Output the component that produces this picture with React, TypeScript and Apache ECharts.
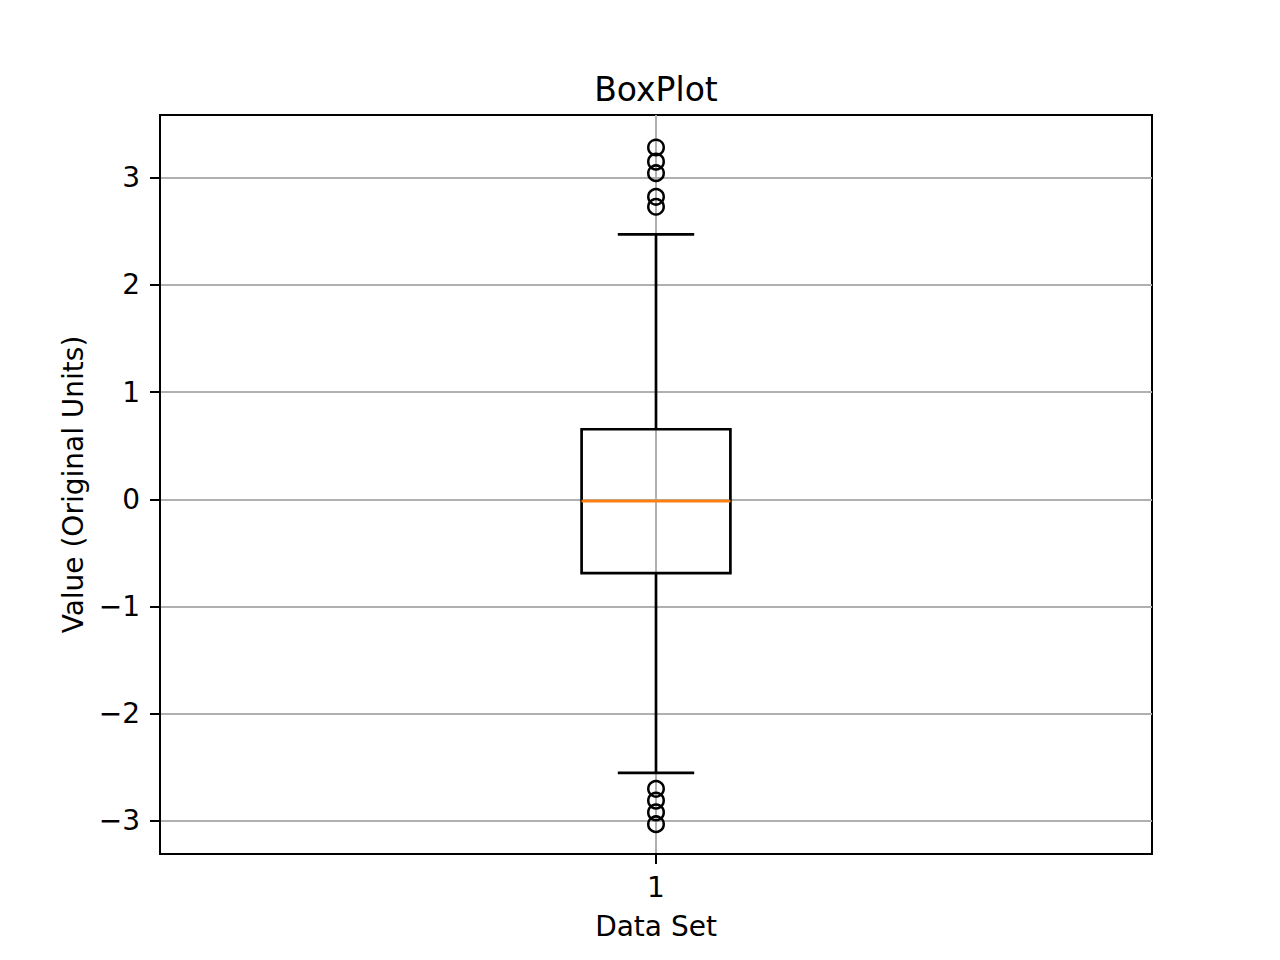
import React, { useEffect, useRef } from "react";
import * as echarts from "echarts";

// Five-number summary
const categories = [1];
const whiskerLow = [-2.552];
const q1 = [-0.688];
const median = [-0.016];
const q3 = [0.654];
const whiskerHigh = [2.471];
const outliers = [3.282, 3.15, 3.042, 2.822, 2.729, -2.70, -2.81, -2.92, -3.03];
const yTicks = [-3, -2, -1, 0, 1, 2, 3];
const xTicks = [1];

const FONT = "DejaVu Sans";

export default function App() {
  const ref = useRef<HTMLDivElement>(null);
  useEffect(() => {
    if (!ref.current) return;
    const chart = echarts.init(ref.current, null, { renderer: "svg" });
    const boxData = categories.map((c, i) => [c, whiskerLow[i], q1[i], median[i], q3[i], whiskerHigh[i]]);
    const outlierData = outliers.map((v) => [categories[0], v]);
    const lineStyle = { stroke: "#000", lineWidth: 2.7 };
    chart.setOption({
      animation: false,
      backgroundColor: "#fff",
      title: {
        text: "BoxPlot",
        left: 651,
        textAlign: "center",
        top: 68,
        textStyle: { fontFamily: FONT, fontSize: 33, fontWeight: "normal", color: "#000" },
      },
      grid: {
        left: 160,
        top: 115,
        width: 992,
        height: 739,
        show: true,
        borderColor: "#000",
        borderWidth: 2,
        backgroundColor: "transparent",
      },
      xAxis: {
        type: "value",
        min: 0.5,
        max: 1.5,
        name: "Data Set",
        nameLocation: "middle",
        nameGap: 58,
        nameTextStyle: { fontFamily: FONT, fontSize: 28, color: "#000" },
        axisLine: { show: true, onZero: false, lineStyle: { color: "#000", width: 2 } },
        axisTick: { show: true, length: 10, lineStyle: { color: "#000", width: 2 }, customValues: xTicks },
        axisLabel: { fontFamily: FONT, fontSize: 28, color: "#000", margin: 19, customValues: xTicks },
        splitLine: { show: true, lineStyle: { color: "#b0b0b0", width: 2 } },
      },
      yAxis: {
        type: "value",
        min: -3.308,
        max: 3.585,
        name: "Value (Original Units)",
        nameLocation: "middle",
        nameGap: 71,
        nameTextStyle: { fontFamily: FONT, fontSize: 28, color: "#000" },
        axisLine: { show: true, onZero: false, lineStyle: { color: "#000", width: 2 } },
        axisTick: { show: true, length: 10, lineStyle: { color: "#000", width: 2 }, customValues: yTicks },
        axisLabel: {
          fontFamily: FONT,
          fontSize: 28,
          color: "#000",
          margin: 20,
          customValues: yTicks,
          formatter: (v: number) => (v < 0 ? "\u2212" + Math.abs(v) : String(v)),
        },
        splitLine: { show: true, lineStyle: { color: "#b0b0b0", width: 2 } },
      },
      series: [
        {
          type: "custom",
          data: boxData,
          encode: { x: 0, y: [1, 2, 3, 4, 5] },
          renderItem: (params: any, api: any) => {
            const x = api.value(0);
            const lo = api.value(1);
            const a = api.value(2);
            const m = api.value(3);
            const b = api.value(4);
            const hi = api.value(5);
            const halfBox = 0.075;
            const halfCap = 0.0385;
            const pLo = api.coord([x, lo]);
            const pA = api.coord([x, a]);
            const pB = api.coord([x, b]);
            const pHi = api.coord([x, hi]);
            const boxL = api.coord([x - halfBox, a])[0];
            const boxR = api.coord([x + halfBox, a])[0];
            const capL = api.coord([x - halfCap, a])[0];
            const capR = api.coord([x + halfCap, a])[0];
            const yM = api.coord([x, m])[1];
            return {
              type: "group",
              children: [
                { type: "line", shape: { x1: pA[0], y1: pA[1], x2: pLo[0], y2: pLo[1] }, style: lineStyle },
                { type: "line", shape: { x1: pB[0], y1: pB[1], x2: pHi[0], y2: pHi[1] }, style: lineStyle },
                { type: "line", shape: { x1: capL, y1: pLo[1], x2: capR, y2: pLo[1] }, style: lineStyle },
                { type: "line", shape: { x1: capL, y1: pHi[1], x2: capR, y2: pHi[1] }, style: lineStyle },
                {
                  type: "rect",
                  shape: { x: boxL, y: pB[1], width: boxR - boxL, height: pA[1] - pB[1] },
                  style: { fill: "none", stroke: "#000", lineWidth: 2.7 },
                },
                { type: "line", shape: { x1: boxL, y1: yM, x2: boxR, y2: yM }, style: { stroke: "#ff7f0e", lineWidth: 2.8 } },
              ],
            };
          },
          z: 3,
        },
        {
          type: "scatter",
          data: outlierData,
          symbol: "circle",
          symbolSize: 15.5,
          itemStyle: { color: "rgba(0,0,0,0)", borderColor: "#000", borderWidth: 2.5, opacity: 1 },
          z: 4,
        },
      ],
    });
    return () => chart.dispose();
  }, []);
  return <div ref={ref} style={{ position: "fixed", left: 0, top: 0, width: 1280, height: 960 }} />;
}
